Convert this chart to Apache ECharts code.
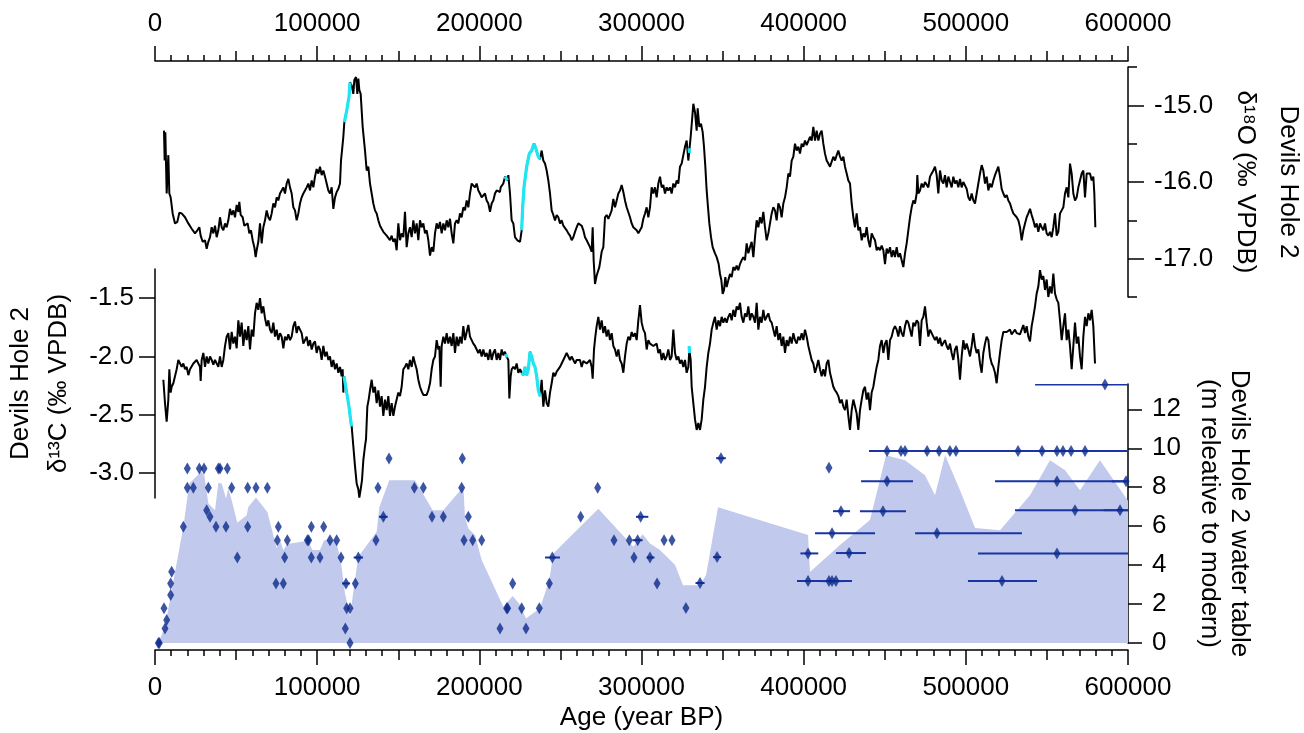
<!DOCTYPE html>
<html><head><meta charset="utf-8">
<script src="https://cdn.jsdelivr.net/npm/echarts@6/dist/echarts.min.js"></script>
<style>html,body{margin:0;padding:0;background:#fff}#c{width:1304px;height:733px}</style>
</head><body><div id="c"></div>
<script>
// ages in ka (1 ka = 1000 years)
const d18OTicks = [-17, -16, -15];
const d18OMinorTicks = [-17.5, -16.5, -15.5, -14.5];
const d13CTicks = [-3, -2.5, -2, -1.5];
const waterTicks = [0, 2, 4, 6, 8, 10, 12];

const d18O = [[5.55,-15.33],[5.96,-15.72],[6.37,-15.35],[7.20,-16.15],[8.22,-15.65],[8.84,-16.15],[9.66,-16.20],[10.89,-16.41],[12.33,-16.54],[13.77,-16.52],[15.01,-16.40],[16.44,-16.41],[18.50,-16.46],[20.56,-16.54],[22.61,-16.61],[24.67,-16.67],[26.11,-16.63],[27.34,-16.59],[28.16,-16.70],[29.39,-16.78],[30.83,-16.76],[31.86,-16.87],[32.89,-16.78],[33.92,-16.72],[34.94,-16.59],[35.97,-16.67],[37.00,-16.57],[38.03,-16.72],[39.05,-16.63],[40.08,-16.46],[41.11,-16.59],[42.14,-16.63],[43.17,-16.54],[44.19,-16.59],[45.22,-16.50],[46.25,-16.35],[47.28,-16.43],[48.30,-16.37],[49.33,-16.46],[50.36,-16.30],[51.39,-16.39],[52.00,-16.26],[52.83,-16.43],[54.06,-16.46],[55.09,-16.57],[56.12,-16.59],[57.14,-16.54],[58.17,-16.67],[59.20,-16.63],[60.23,-16.76],[61.25,-16.85],[62.08,-16.98],[62.69,-16.89],[63.72,-16.78],[64.75,-16.54],[65.78,-16.80],[66.80,-16.59],[67.83,-16.50],[68.86,-16.37],[69.89,-16.46],[70.92,-16.50],[71.94,-16.41],[72.97,-16.28],[74.00,-16.33],[75.03,-16.20],[76.05,-16.24],[77.08,-16.15],[78.11,-16.11],[79.14,-16.07],[80.16,-16.15],[81.19,-16.02],[82.22,-15.96],[83.25,-16.07],[84.28,-16.15],[85.30,-16.33],[86.33,-16.37],[87.36,-16.50],[88.39,-16.41],[89.41,-16.28],[90.44,-16.20],[91.47,-16.15],[92.50,-16.11],[93.53,-16.07],[94.55,-16.02],[95.58,-16.11],[96.61,-15.98],[97.64,-16.07],[98.66,-15.93],[99.69,-15.83],[100.72,-15.89],[101.75,-15.80],[102.78,-15.91],[103.80,-15.85],[104.83,-15.93],[105.86,-16.02],[106.89,-16.11],[107.91,-16.15],[108.94,-16.07],[109.97,-16.35],[111.00,-16.20],[112.03,-16.13],[113.05,-16.09],[114.08,-16.02],[114.70,-15.72],[115.31,-15.59],[116.14,-15.41],[116.75,-15.22],[118.19,-15.07],[119.63,-14.89],[120.25,-14.70],[121.28,-14.74],[122.30,-14.85],[122.92,-14.67],[123.95,-14.63],[124.77,-14.85],[125.39,-14.65],[126.00,-14.80],[126.83,-14.85],[128.06,-15.28],[129.50,-15.59],[130.53,-15.85],[131.55,-15.80],[132.58,-16.02],[133.61,-16.15],[134.64,-16.28],[135.66,-16.37],[136.69,-16.41],[137.72,-16.50],[138.75,-16.57],[139.77,-16.61],[140.80,-16.65],[141.83,-16.63],[142.86,-16.70],[143.88,-16.72],[144.91,-16.76],[145.94,-16.70],[146.97,-16.78],[147.99,-16.74],[149.02,-16.89],[150.05,-16.54],[151.08,-16.76],[152.10,-16.67],[153.13,-16.72],[154.16,-16.39],[155.19,-16.85],[156.22,-16.67],[157.24,-16.59],[158.27,-16.72],[159.30,-16.50],[160.33,-16.67],[161.35,-16.54],[162.38,-16.76],[163.41,-16.50],[164.44,-16.59],[165.47,-16.54],[166.49,-16.67],[167.52,-16.63],[168.55,-16.76],[169.58,-16.96],[170.61,-16.85],[171.63,-16.91],[172.66,-16.67],[173.69,-16.54],[174.72,-16.61],[175.74,-16.52],[176.77,-16.67],[177.80,-16.54],[178.83,-16.63],[179.86,-16.50],[180.88,-16.59],[181.91,-16.48],[182.94,-16.67],[183.97,-16.80],[184.99,-16.54],[186.02,-16.50],[187.05,-16.54],[188.08,-16.41],[189.10,-16.46],[190.13,-16.33],[191.16,-16.37],[192.19,-16.24],[193.22,-16.33],[194.24,-16.15],[195.27,-16.02],[196.30,-16.00],[197.33,-16.07],[198.35,-16.02],[199.38,-16.11],[200.41,-16.15],[201.44,-16.20],[202.47,-16.22],[203.49,-16.15],[204.52,-16.24],[205.55,-16.28],[206.58,-16.39],[207.61,-16.28],[208.63,-16.24],[209.66,-16.15],[210.69,-16.11],[212.75,-16.13],[213.15,-16.07],[214.80,-16.02],[215.83,-15.93],[216.44,-15.91],[217.27,-15.98],[217.88,-15.91],[218.91,-16.15],[219.94,-16.50],[220.97,-16.54],[221.99,-16.72],[223.43,-16.76],[225.08,-16.78],[226.10,-16.63],[226.72,-16.33],[227.54,-16.07],[229.19,-15.80],[230.83,-15.63],[232.27,-15.59],[233.71,-15.50],[234.94,-15.57],[236.38,-15.67],[237.41,-15.70],[238.44,-15.59],[239.46,-15.72],[240.49,-15.76],[241.52,-15.85],[242.55,-15.98],[243.58,-16.15],[244.60,-16.37],[245.63,-16.43],[246.66,-16.50],[247.69,-16.43],[248.71,-16.46],[249.74,-16.54],[250.77,-16.50],[251.80,-16.57],[252.83,-16.59],[253.85,-16.63],[254.88,-16.67],[255.91,-16.70],[256.94,-16.76],[257.96,-16.72],[258.99,-16.65],[260.02,-16.59],[261.05,-16.54],[262.08,-16.54],[263.10,-16.57],[264.13,-16.63],[265.16,-16.72],[266.19,-16.76],[267.21,-16.78],[268.24,-16.85],[269.27,-16.91],[269.89,-16.59],[270.50,-17.02],[271.32,-17.33],[272.35,-17.22],[273.38,-17.24],[274.00,-17.11],[274.82,-17.00],[275.44,-16.91],[276.46,-16.85],[277.49,-16.46],[278.52,-16.43],[279.55,-16.48],[280.57,-16.43],[281.60,-16.37],[282.63,-16.22],[283.66,-16.33],[284.69,-16.24],[285.71,-16.15],[286.74,-16.11],[287.77,-16.04],[288.80,-16.13],[289.82,-16.24],[290.85,-16.33],[291.88,-16.35],[292.91,-16.46],[293.94,-16.54],[294.96,-16.59],[295.99,-16.61],[297.02,-16.63],[298.05,-16.67],[299.07,-16.63],[300.10,-16.59],[301.13,-16.48],[302.16,-16.41],[303.19,-16.33],[304.21,-16.46],[305.24,-16.33],[306.27,-16.07],[307.30,-16.15],[308.32,-16.07],[309.35,-16.20],[310.38,-16.02],[311.41,-15.93],[312.43,-16.07],[313.46,-16.04],[314.49,-16.15],[315.52,-16.07],[316.55,-16.11],[317.57,-16.07],[318.60,-16.15],[319.63,-16.02],[320.66,-16.07],[321.68,-15.98],[322.71,-16.02],[323.74,-15.80],[324.77,-15.76],[325.80,-15.65],[326.82,-15.54],[327.85,-15.46],[328.88,-15.72],[329.50,-15.59],[330.32,-15.41],[331.14,-15.20],[331.96,-14.98],[332.99,-15.09],[334.02,-15.33],[334.63,-15.04],[335.66,-15.28],[336.69,-15.24],[337.72,-15.35],[338.54,-15.54],[339.36,-15.80],[340.18,-16.11],[341.01,-16.33],[341.83,-16.54],[342.86,-16.72],[343.88,-16.85],[345.32,-16.93],[346.35,-16.98],[347.58,-17.07],[348.41,-17.20],[349.23,-17.28],[350.05,-17.46],[350.87,-17.41],[351.69,-17.24],[352.52,-17.37],[353.55,-17.28],[354.57,-17.20],[355.60,-17.24],[356.63,-17.11],[357.66,-17.15],[358.68,-17.09],[359.71,-17.15],[360.74,-17.07],[361.77,-17.02],[362.79,-16.98],[363.82,-17.02],[364.85,-16.80],[365.88,-16.93],[366.91,-16.85],[367.93,-16.78],[368.96,-16.98],[369.99,-16.72],[371.02,-16.50],[372.04,-16.59],[373.07,-16.46],[374.10,-16.54],[375.13,-16.39],[376.15,-16.59],[377.18,-16.76],[378.21,-16.67],[379.24,-16.54],[380.27,-16.41],[381.29,-16.33],[382.32,-16.37],[383.35,-16.50],[384.38,-16.28],[385.41,-16.33],[386.43,-16.46],[387.46,-16.28],[388.49,-16.20],[389.52,-16.07],[390.54,-15.89],[391.57,-15.93],[392.60,-15.72],[393.63,-15.67],[394.65,-15.50],[395.68,-15.59],[396.71,-15.54],[397.74,-15.63],[398.77,-15.50],[399.79,-15.54],[400.82,-15.46],[401.85,-15.52],[402.88,-15.50],[403.90,-15.41],[404.93,-15.46],[405.96,-15.28],[406.99,-15.46],[408.01,-15.33],[409.04,-15.46],[410.07,-15.37],[411.10,-15.33],[412.12,-15.50],[413.15,-15.63],[414.18,-15.72],[415.21,-15.76],[416.24,-15.80],[417.27,-15.80],[418.30,-15.67],[419.32,-15.72],[420.35,-15.65],[421.38,-15.59],[422.41,-15.67],[423.43,-15.72],[424.46,-15.67],[425.49,-15.80],[426.52,-15.89],[427.54,-15.98],[428.57,-16.02],[429.60,-16.28],[430.63,-16.46],[431.66,-16.59],[432.68,-16.41],[433.71,-16.63],[434.74,-16.59],[435.77,-16.76],[436.79,-16.67],[437.82,-16.72],[438.85,-16.59],[439.88,-16.76],[440.90,-16.85],[441.93,-16.67],[442.96,-16.72],[443.99,-16.76],[445.02,-16.89],[446.04,-16.85],[447.07,-16.89],[448.10,-16.83],[449.13,-16.89],[450.15,-17.07],[451.18,-16.87],[452.21,-16.93],[453.24,-16.85],[454.27,-16.98],[455.29,-16.89],[456.32,-16.98],[457.35,-16.85],[458.38,-16.98],[459.41,-16.93],[460.43,-17.02],[461.46,-17.11],[462.49,-16.93],[463.52,-16.80],[464.54,-16.63],[465.57,-16.46],[466.60,-16.33],[467.63,-16.24],[468.66,-16.28],[469.68,-16.15],[470.09,-15.91],[470.71,-16.15],[471.74,-16.11],[472.77,-16.02],[473.79,-16.07],[474.82,-16.00],[475.85,-15.98],[476.88,-16.07],[477.90,-15.93],[478.93,-15.89],[479.96,-15.85],[480.99,-15.80],[482.02,-15.91],[483.04,-16.15],[484.07,-15.85],[485.10,-15.98],[486.13,-16.02],[487.15,-15.91],[488.18,-16.07],[489.21,-15.93],[490.24,-16.00],[491.27,-16.07],[492.29,-15.93],[493.32,-16.02],[494.35,-15.98],[495.38,-16.07],[496.40,-15.96],[497.43,-16.07],[498.46,-16.00],[499.49,-16.02],[500.52,-16.09],[501.54,-16.20],[502.57,-16.24],[503.60,-16.15],[504.63,-16.24],[505.65,-16.28],[506.68,-16.15],[507.71,-16.02],[508.74,-15.89],[509.77,-15.78],[510.79,-15.85],[511.82,-16.02],[512.85,-15.93],[513.88,-16.11],[514.90,-16.02],[515.93,-16.07],[516.96,-15.98],[517.99,-15.91],[519.01,-15.93],[520.04,-15.80],[521.07,-15.93],[522.10,-16.09],[523.13,-16.15],[524.15,-16.20],[525.18,-16.17],[526.21,-16.24],[527.24,-16.28],[528.26,-16.35],[529.29,-16.41],[530.32,-16.43],[531.35,-16.46],[532.37,-16.50],[533.40,-16.59],[534.43,-16.76],[535.46,-16.63],[536.49,-16.54],[537.51,-16.46],[538.54,-16.41],[539.57,-16.35],[540.60,-16.43],[541.62,-16.50],[542.65,-16.59],[543.68,-16.54],[544.71,-16.65],[545.74,-16.54],[546.76,-16.59],[547.79,-16.63],[548.82,-16.54],[549.85,-16.67],[550.87,-16.70],[551.90,-16.65],[552.93,-16.72],[553.96,-16.59],[554.99,-16.41],[556.01,-16.70],[557.04,-16.65],[558.07,-16.41],[559.10,-16.37],[560.12,-16.33],[561.15,-16.15],[562.18,-16.07],[563.21,-16.20],[564.24,-15.76],[565.26,-15.89],[566.29,-16.15],[567.32,-16.24],[568.35,-16.20],[569.37,-16.07],[570.40,-15.98],[571.43,-15.89],[572.46,-15.85],[573.49,-16.20],[574.51,-15.89],[575.54,-15.91],[576.57,-15.89],[577.60,-15.98],[578.62,-15.93],[579.24,-16.15],[579.86,-16.59]];

const d18OHi1 = [[116.75,-15.22],[118.19,-15.07],[119.63,-14.89],[120.25,-14.70]];
const d18OHi2 = [[215.83,-15.93],[216.44,-15.91],[217.27,-15.98]];
const d18OHi3 = [[226.10,-16.63],[226.72,-16.33],[227.54,-16.07],[229.19,-15.80],[230.83,-15.63],[232.27,-15.59],[233.71,-15.50],[234.94,-15.57],[236.38,-15.67],[237.41,-15.70]];
const d18OHi4 = [[329.30,-15.56],[329.70,-15.62]];

const d13C = [[5.14,-2.20],[6.17,-2.40],[7.19,-2.56],[8.22,-2.37],[8.84,-2.11],[9.66,-2.31],[10.28,-2.26],[11.31,-2.23],[12.33,-2.17],[13.36,-2.11],[14.39,-2.03],[15.42,-2.06],[16.44,-2.09],[17.47,-2.06],[18.50,-2.11],[19.53,-2.09],[20.56,-2.16],[21.58,-2.11],[23.64,-2.06],[25.69,-2.03],[27.75,-2.09],[28.16,-2.21],[28.78,-2.03],[29.81,-1.97],[30.83,-2.09],[31.86,-2.00],[32.89,-2.06],[33.92,-2.00],[34.94,-2.03],[35.97,-2.07],[37.00,-2.03],[38.03,-2.06],[39.05,-2.09],[40.08,-2.00],[41.11,-2.09],[42.14,-2.03],[43.17,-1.91],[44.19,-1.83],[45.22,-1.80],[46.25,-1.94],[47.28,-1.79],[48.30,-1.89],[49.33,-1.83],[50.36,-1.93],[51.39,-1.69],[52.42,-1.83],[53.44,-1.71],[54.47,-1.91],[55.50,-1.77],[56.53,-1.86],[57.55,-1.74],[58.58,-1.94],[59.61,-1.77],[60.64,-1.83],[61.67,-1.63],[62.69,-1.54],[63.72,-1.60],[64.75,-1.50],[65.78,-1.63],[66.80,-1.57],[67.83,-1.67],[68.86,-1.74],[69.89,-1.69],[70.92,-1.77],[71.94,-1.80],[72.97,-1.71],[74.00,-1.83],[75.03,-1.77],[76.05,-1.86],[77.08,-1.80],[78.11,-1.83],[79.14,-1.93],[80.16,-1.83],[81.19,-1.86],[82.22,-1.81],[83.25,-1.86],[84.28,-1.83],[85.30,-1.74],[86.33,-1.70],[87.36,-1.80],[88.39,-1.74],[89.41,-1.77],[90.44,-1.80],[91.47,-1.89],[92.50,-1.86],[93.53,-1.83],[94.55,-1.91],[95.58,-1.86],[96.61,-1.94],[97.64,-1.89],[98.66,-1.87],[99.69,-1.97],[100.72,-1.91],[101.75,-1.94],[102.78,-2.03],[103.80,-1.91],[104.83,-2.00],[105.86,-1.96],[106.89,-2.03],[107.91,-2.00],[108.94,-2.09],[109.97,-2.03],[111.00,-2.11],[112.03,-2.06],[113.05,-2.14],[114.08,-2.09],[115.11,-2.17],[115.73,-2.11],[116.14,-2.31],[116.55,-2.17],[118.19,-2.31],[119.63,-2.43],[120.86,-2.57],[121.28,-2.60],[122.30,-2.77],[123.33,-2.94],[124.36,-3.09],[125.39,-3.14],[126.00,-3.21],[126.83,-3.14],[127.65,-3.06],[128.47,-2.89],[129.50,-2.77],[130.12,-2.71],[130.94,-2.43],[131.76,-2.37],[132.58,-2.29],[133.61,-2.20],[134.64,-2.31],[135.66,-2.26],[136.69,-2.40],[137.72,-2.29],[138.75,-2.43],[139.77,-2.34],[140.80,-2.51],[141.83,-2.37],[142.86,-2.46],[143.88,-2.34],[144.91,-2.51],[145.94,-2.40],[146.97,-2.51],[147.99,-2.43],[149.02,-2.37],[150.05,-2.31],[151.08,-2.34],[152.10,-2.26],[153.13,-2.11],[154.16,-2.09],[155.19,-2.06],[156.22,-2.11],[157.24,-2.03],[158.27,-2.09],[159.30,-2.00],[160.33,-2.06],[161.35,-2.11],[162.38,-2.20],[163.41,-2.26],[164.44,-2.30],[165.47,-2.33],[166.49,-2.34],[167.52,-2.33],[168.55,-2.29],[169.58,-2.23],[170.61,-2.11],[171.63,-2.03],[172.66,-2.00],[173.69,-1.86],[174.72,-1.94],[175.33,-1.91],[176.16,-2.26],[176.77,-1.91],[177.80,-1.83],[178.83,-1.89],[179.86,-1.80],[180.88,-1.89],[181.91,-1.83],[182.94,-1.91],[183.97,-1.80],[184.99,-1.97],[186.02,-1.83],[187.05,-1.91],[188.08,-1.83],[189.10,-1.89],[190.13,-1.74],[191.16,-1.86],[192.19,-1.79],[193.22,-1.73],[194.24,-1.83],[195.27,-1.86],[196.30,-1.89],[197.33,-1.91],[198.35,-1.94],[199.38,-1.97],[200.41,-1.94],[201.44,-2.00],[202.47,-1.94],[203.49,-2.00],[204.52,-1.97],[205.55,-2.03],[206.58,-1.94],[207.61,-2.03],[208.63,-1.97],[209.66,-1.94],[210.69,-2.03],[211.72,-1.97],[212.75,-2.03],[213.77,-1.94],[214.80,-1.99],[215.83,-1.96],[216.44,-1.99],[217.88,-2.03],[218.50,-2.36],[219.33,-2.17],[219.94,-2.11],[220.97,-2.09],[222.00,-2.11],[223.03,-2.06],[224.05,-2.14],[225.08,-2.11],[226.11,-2.14],[227.14,-2.16],[228.16,-2.09],[229.19,-2.16],[230.22,-2.11],[231.25,-1.96],[232.27,-2.00],[233.30,-2.06],[234.33,-2.09],[235.36,-2.17],[236.38,-2.29],[237.41,-2.34],[238.44,-2.20],[239.47,-2.43],[240.49,-2.29],[241.52,-2.40],[242.55,-2.43],[243.58,-2.31],[244.60,-2.23],[245.63,-2.14],[246.66,-2.17],[247.69,-2.13],[248.71,-2.14],[249.74,-2.09],[250.77,-2.06],[251.80,-2.03],[252.83,-2.04],[253.85,-1.97],[254.88,-1.96],[255.91,-2.03],[256.94,-2.00],[257.97,-2.03],[258.99,-2.06],[260.02,-2.03],[261.05,-2.04],[262.08,-2.03],[263.10,-2.09],[264.13,-2.04],[265.16,-2.03],[266.19,-2.06],[267.21,-2.07],[268.24,-2.03],[269.27,-2.09],[269.89,-2.19],[270.71,-1.94],[271.53,-1.83],[272.35,-1.74],[273.38,-1.66],[274.41,-1.77],[275.44,-1.69],[276.46,-1.80],[277.49,-1.74],[278.52,-1.83],[279.55,-1.77],[280.57,-1.86],[281.60,-1.80],[282.63,-1.91],[283.66,-1.94],[284.69,-2.00],[285.71,-1.94],[286.74,-2.03],[287.77,-2.06],[288.80,-2.14],[289.82,-2.00],[290.85,-1.89],[291.88,-1.83],[292.91,-1.86],[293.94,-1.79],[294.96,-1.83],[295.99,-1.80],[297.02,-1.86],[298.05,-1.69],[299.07,-1.56],[300.10,-1.71],[301.13,-1.77],[302.16,-1.80],[303.19,-1.94],[304.21,-1.86],[305.24,-1.89],[307.30,-1.91],[309.35,-1.89],[310.38,-1.97],[311.41,-1.94],[312.44,-2.03],[313.46,-1.97],[314.49,-2.03],[315.52,-2.00],[316.55,-1.94],[317.57,-2.03],[318.60,-2.00],[319.63,-1.77],[320.66,-1.97],[321.69,-2.03],[322.71,-2.00],[323.74,-2.06],[324.77,-2.03],[325.80,-2.09],[326.82,-2.03],[327.85,-2.14],[328.88,-2.09],[329.50,-1.94],[330.32,-2.03],[330.94,-2.26],[331.96,-2.40],[332.99,-2.54],[334.02,-2.63],[335.05,-2.57],[336.07,-2.63],[337.10,-2.54],[338.13,-2.37],[339.16,-2.26],[340.19,-2.09],[341.21,-1.97],[342.24,-1.89],[343.27,-1.77],[344.30,-1.71],[345.32,-1.66],[346.35,-1.77],[347.38,-1.69],[348.41,-1.74],[349.44,-1.66],[350.46,-1.71],[351.49,-1.67],[352.52,-1.71],[353.55,-1.66],[354.57,-1.63],[355.60,-1.69],[356.63,-1.60],[357.66,-1.66],[358.68,-1.57],[359.71,-1.60],[360.74,-1.54],[361.77,-1.66],[362.80,-1.71],[363.82,-1.63],[364.85,-1.66],[365.88,-1.57],[366.91,-1.69],[367.93,-1.63],[368.96,-1.66],[369.99,-1.71],[371.02,-1.54],[372.05,-1.77],[373.07,-1.66],[374.10,-1.71],[375.13,-1.60],[376.16,-1.69],[377.18,-1.66],[378.21,-1.63],[379.24,-1.69],[380.27,-1.71],[381.30,-1.77],[382.32,-1.83],[383.35,-1.74],[384.38,-1.86],[385.41,-1.80],[386.43,-1.91],[387.46,-1.83],[388.49,-1.97],[389.52,-1.86],[390.54,-1.91],[391.57,-1.83],[392.60,-1.89],[393.63,-1.80],[394.66,-1.86],[395.68,-1.89],[396.71,-1.83],[397.74,-1.86],[398.77,-1.80],[399.79,-1.86],[400.82,-1.77],[401.85,-1.83],[402.88,-1.91],[403.91,-1.97],[404.93,-2.03],[405.96,-2.06],[406.99,-2.14],[408.02,-2.09],[409.04,-2.03],[410.07,-2.11],[411.10,-2.17],[412.13,-2.11],[413.15,-2.17],[414.18,-2.06],[415.21,-2.03],[416.24,-2.14],[417.27,-2.20],[418.29,-2.26],[419.32,-2.29],[420.35,-2.31],[421.38,-2.34],[422.41,-2.40],[423.43,-2.37],[424.46,-2.43],[425.49,-2.46],[426.52,-2.37],[427.54,-2.51],[428.57,-2.63],[429.60,-2.46],[430.63,-2.37],[431.66,-2.43],[432.68,-2.49],[433.71,-2.63],[434.74,-2.46],[435.77,-2.37],[436.79,-2.29],[437.82,-2.26],[438.85,-2.37],[439.88,-2.31],[440.90,-2.46],[441.93,-2.31],[442.96,-2.26],[443.99,-2.17],[445.02,-2.09],[446.04,-2.03],[447.07,-1.91],[448.10,-1.86],[449.13,-1.97],[450.15,-1.89],[451.18,-1.86],[452.21,-2.03],[453.24,-1.86],[454.27,-1.83],[455.29,-1.77],[456.32,-1.74],[457.35,-1.77],[458.38,-1.83],[459.40,-1.74],[460.43,-1.80],[461.46,-1.83],[462.49,-1.74],[463.52,-1.69],[464.54,-1.71],[465.57,-1.77],[466.60,-1.83],[467.63,-1.71],[468.65,-1.74],[469.68,-1.69],[470.71,-1.71],[471.74,-1.91],[472.77,-1.69],[473.79,-1.66],[474.82,-1.57],[475.85,-1.71],[476.88,-1.83],[477.90,-1.77],[478.93,-1.80],[479.96,-1.83],[480.99,-1.86],[482.01,-1.83],[483.04,-1.89],[484.07,-1.84],[485.10,-1.91],[486.13,-1.90],[487.15,-1.86],[488.18,-1.91],[489.21,-1.94],[490.24,-1.89],[491.26,-1.97],[492.29,-2.03],[493.32,-1.94],[494.35,-1.91],[495.38,-2.03],[496.40,-2.20],[497.43,-2.00],[498.46,-1.86],[499.49,-1.94],[500.51,-1.89],[501.54,-1.94],[502.57,-2.00],[503.60,-1.91],[504.63,-1.80],[505.65,-1.91],[506.68,-1.97],[507.71,-1.94],[508.74,-2.06],[509.76,-2.14],[510.79,-1.97],[511.82,-1.89],[512.85,-1.83],[513.88,-1.86],[514.90,-2.00],[515.93,-2.06],[516.96,-2.09],[517.99,-2.14],[519.01,-2.23],[520.04,-2.09],[521.07,-1.97],[522.10,-1.86],[523.12,-1.79],[524.15,-1.80],[525.18,-1.79],[526.21,-1.80],[527.24,-1.77],[528.26,-1.81],[529.29,-1.79],[530.32,-1.77],[531.35,-1.80],[532.37,-1.79],[533.40,-1.81],[534.43,-1.77],[535.46,-1.73],[536.49,-1.80],[537.51,-1.74],[538.54,-1.83],[539.57,-1.87],[540.60,-1.74],[541.62,-1.66],[542.65,-1.57],[543.68,-1.46],[544.71,-1.40],[545.74,-1.26],[546.76,-1.34],[547.79,-1.31],[548.82,-1.43],[549.85,-1.34],[550.87,-1.49],[551.90,-1.40],[552.93,-1.46],[553.96,-1.29],[554.99,-1.46],[556.01,-1.51],[557.04,-1.54],[558.07,-1.69],[559.10,-1.86],[560.12,-1.74],[561.15,-1.63],[562.18,-1.86],[563.21,-1.77],[564.23,-1.91],[565.26,-2.11],[566.29,-1.91],[567.32,-1.71],[568.35,-1.89],[569.37,-1.83],[570.40,-2.00],[571.43,-2.11],[572.46,-1.83],[573.49,-1.66],[574.51,-1.74],[575.54,-1.63],[576.57,-1.69],[577.60,-1.60],[578.62,-1.74],[579.65,-2.06]];

const d13CHi1 = [[116.55,-2.17],[118.19,-2.31],[119.63,-2.43],[120.86,-2.57],[121.28,-2.60]];
const d13CHi2 = [[216.30,-1.98],[217.00,-2.01]];
const d13CHi3 = [[226.11,-2.14],[227.14,-2.16],[228.16,-2.09],[229.19,-2.16],[230.22,-2.11],[231.25,-1.96],[232.27,-2.00],[233.30,-2.06],[234.33,-2.09],[235.36,-2.17],[236.38,-2.29],[237.41,-2.34]];
const d13CHi4 = [[329.40,-1.91],[329.60,-1.97]];

const waterArea = [[2.06,0],[6.17,0.84],[17.47,5.97],[21.17,8.19],[28.37,8.79],[30.42,8.62],[32.89,7.16],[37.00,6.82],[39.06,8.22],[41.11,8.19],[43.78,7.42],[45.22,7.93],[47.28,7.33],[50.77,6.17],[56.53,6.56],[57.55,6.99],[62.28,7.47],[69.27,6.73],[75.03,4.86],[77.08,5.28],[79.14,4.77],[81.60,5.08],[94.55,5.25],[97.02,4.77],[101.75,4.77],[104.21,5.28],[111.61,5.28],[114.49,4.22],[117.16,2.55],[120.25,1.35],[122.71,2.89],[125.39,4.43],[136.69,5.71],[138.34,6.99],[144.50,8.36],[160.33,8.36],[171.22,6.82],[177.80,6.82],[190.13,8.02],[191.16,6.48],[193.22,5.88],[197.33,5.54],[201.44,4.26],[214.80,1.86],[220.55,2.41],[224.66,2.00],[228.77,1.26],[237.41,1.78],[243.16,3.23],[245.63,4.60],[273.38,6.90],[294.96,4.94],[300.72,5.59],[305.24,5.11],[311.4,4.77],[320.7,4.00],[325.6,2.97],[336.1,2.97],[339.8,3.49],[347.2,6.97],[402.7,5.54],[403.9,3.64],[422.4,5.03],[440.9,6.31],[450.8,9.64],[462.5,9.38],[474.8,8.62],[481.0,7.59],[487.2,9.64],[496.4,7.85],[505.7,5.90],[521.1,5.79],[539.6,7.59],[551.9,9.38],[561.2,8.87],[570.4,7.85],[582.7,9.38],[598.8,7.44],[600,7.30]];

const waterPts = [[2.06,0],[2.67,0],[5.55,1.78],[6.17,0.75],[7.19,1.18],[9.66,2.46],[9.66,3.06],[10.28,3.66],[17.47,5.97],[19.94,8.96],[19.94,7.97],[23.64,7.97],[27.34,8.96],[30.22,8.96],[32.89,7.97],[31.86,6.82],[33.92,6.48],[37.62,5.97],[39.06,8.96],[40.08,8.96],[43.78,5.97],[44.61,8.96],[47.28,7.97],[50.77,4.39],[57.14,7.97],[57.14,5.97],[62.28,7.97],[69.27,7.97],[74.62,3.06],[76.06,5.97],[75.44,5.28],[79.14,3.06],[79.96,4.39],[81.60,5.28],[93.94,5.28],[94.76,5.28],[96.40,5.97],[96.40,4.39],[101.75,4.39],[104.01,5.97],[107.92,5.28],[112.03,5.28],[114.70,4.39],[117.37,0.75],[118.19,1.78],[120.25,1.78],[120.25,0],[123.54,3.06],[136.28,5.28],[137.51,7.97],[144.30,9.47],[159.92,7.97],[165.47,7.97],[170.81,6.48],[177.80,6.48],[189.52,9.47],[189.11,7.97],[193.22,6.48],[190.54,5.28],[195.89,5.28],[201.44,5.28],[212.74,0.75],[216.85,1.78],[217.47,1.78],[220.55,3.06],[226.10,1.78],[228.77,0.75],[236.99,1.78],[243.16,3.06],[262.49,6.48],[272.97,7.97],[283.04,5.28],[292.50,5.28],[295.38,4.39],[309.6,3.06],[313.9,5.28],[318.8,5.28],[327.4,1.80],[415.6,9.00]];

// [age, level, age min, age max]
const waterErr = [[117.78,3.06,115.3,120.3],[125.39,4.39,122.5,128.3],[140.80,6.48,138.1,143.5],[245.01,4.39,240.5,249.7],[297.64,5.28,294.5,300.7],[299.49,6.48,296.6,304.2],[305.24,4.39,303.2,308.0],[336.1,3.08,333.3,338.9],[346.6,4.41,344.1,349.1],[349.0,9.49,346.0,352.0],[402.7,4.60,398.0,409.0],[402.7,3.18,395.9,429.8],[415.6,3.18,410.0,421.0],[417.5,3.18,412.0,423.0],[419.9,3.18,414.0,425.0],[417.5,5.64,407.0,444.0],[423.0,6.77,418.1,428.6],[428.0,4.62,419.9,438.4],[448.9,6.77,434.7,463.1],[451.4,8.30,435.4,467.4],[451.4,9.86,440.3,470.0],[460.0,9.86,450.0,475.0],[462.5,9.86,452.0,478.0],[476.1,9.86,462.0,492.0],[483.5,9.86,470.0,500.0],[490.2,9.86,476.0,505.0],[493.9,9.86,480.0,510.0],[532.2,9.86,500.0,565.0],[547.0,9.86,520.0,575.0],[556.2,9.86,530.0,585.0],[559.9,9.86,535.0,590.0],[564.9,9.86,540.0,600.0],[573.5,9.86,545.0,600.0],[482.2,5.64,468.7,534.6],[522.3,3.18,501.3,543.9],[556.2,4.60,507.5,600.0],[567.3,6.82,530.3,600.0],[595.1,6.82,585.0,600.0],[556.2,8.30,518.0,600.0],[598.8,8.30,590.0,600.0],[585.8,13.28,542.7,600.0]];

const FONT = "'Liberation Sans', Arial, Helvetica, sans-serif";
const AX = {color:'#000', width:1.5};
const txt = {fontSize:26, color:'#000', fontFamily:FONT};

const chart = echarts.init(document.getElementById('c'), null, {renderer:'canvas'});
const gridBox = (top, height) => ({left:155, right:176, top:top, height:height, containLabel:false, outerBoundsMode:'none'});

function xMain(grid, pos, offset, withLabel, extra) {
  return Object.assign({
    gridIndex:grid, type:'value', position:pos, offset:offset, min:0, max:600, interval:100,
    axisLine:{show:true, onZero:false, lineStyle:AX},
    axisTick:{show:true, length:15, lineStyle:AX},
    minorTick:{show:true, splitNumber:10, length:6, lineStyle:AX},
    axisLabel:{show:withLabel, ...txt, margin: pos==='top'?24:25, formatter:v=>String(Math.round(v*1000))},
    splitLine:{show:false}, minorSplitLine:{show:false}
  }, extra||{});
}
function xMid(grid, pos, offset) {
  return {gridIndex:grid, type:'value', position:pos, offset:offset, min:0, max:600, interval:50,
    axisLine:{show:false, onZero:false}, axisTick:{show:true, length:10, lineStyle:AX},
    axisLabel:{show:false}, splitLine:{show:false}};
}

const option = {
  animation:false,
  backgroundColor:'#fff',
  grid:[gridBox(67,230), gridBox(269,229), gridBox(384,259)],
  xAxis:[
    xMain(0,'top',6,true),
    xMid(0,'top',6),
    {gridIndex:1, type:'value', min:0, max:600, show:false},
    xMain(2,'bottom',7,true,{name:'Age (year BP)', nameLocation:'middle', nameGap:55, nameTextStyle:txt}),
    xMid(2,'bottom',7)
  ],
  yAxis:[
    {gridIndex:0, type:'value', position:'right', min:-17.5, max:-14.5,
     axisLine:{show:true, onZero:false, lineStyle:AX},
     axisTick:{show:true, length:16, customValues:d18OTicks, lineStyle:AX},
     axisLabel:{show:true, customValues:d18OTicks, ...txt, margin:26, formatter:v=>v.toFixed(1)},
     splitLine:{show:false},
     name:'Devils Hole 2\nδ¹⁸O (‰ VPDB)', nameLocation:'middle', nameRotate:-90, nameGap:83,
     nameTextStyle:{...txt, lineHeight:43}},
    {gridIndex:0, type:'value', position:'right', min:-17.5, max:-14.5,
     axisLine:{show:false, onZero:false},
     axisTick:{show:true, length:9, customValues:d18OMinorTicks, lineStyle:AX},
     axisLabel:{show:false}, splitLine:{show:false}},
    {gridIndex:1, type:'value', position:'left', min:-3.214, max:-1.25,
     axisLine:{show:true, onZero:false, lineStyle:AX},
     axisTick:{show:true, length:16, customValues:d13CTicks, lineStyle:AX},
     axisLabel:{show:true, customValues:d13CTicks, ...txt, margin:21, formatter:v=>v.toFixed(1)},
     splitLine:{show:false},
     name:'Devils Hole 2\nδ¹³C (‰ VPDB)', nameLocation:'middle', nameRotate:90, nameGap:70,
     nameTextStyle:{...txt, lineHeight:38}},
    {gridIndex:2, type:'value', position:'right', min:0, max:13.3,
     axisLine:{show:true, onZero:false, lineStyle:AX},
     axisTick:{show:true, length:14, customValues:waterTicks, lineStyle:AX},
     axisLabel:{show:true, customValues:waterTicks, ...txt, margin:24},
     splitLine:{show:false},
     name:'Devils Hole 2 water table\n(m releative to modern)', nameLocation:'middle', nameRotate:-90, nameGap:66,
     nameTextStyle:{...txt, lineHeight:30}}
  ],
  series:[]
};

const S = option.series;
S.push({type:'line', xAxisIndex:3, yAxisIndex:3, data:waterArea, showSymbol:false, symbol:'none', z:1,
  lineStyle:{width:0}, areaStyle:{color:'#c1c9ec', opacity:1}, silent:true});
S.push({type:'custom', xAxisIndex:3, yAxisIndex:3, data:waterErr, z:3, clip:true,
  encode:{x:[0,2,3], y:1},
  renderItem:(params, api) => {
    const y = api.value(1);
    const p1 = api.coord([api.value(2), y]);
    const p2 = api.coord([api.value(3), y]);
    return {type:'line', shape:{x1:p1[0], y1:p1[1], x2:p2[0], y2:p2[1]},
      style:{stroke:'#1a35a3', lineWidth:2}};
  }});
S.push({type:'scatter', xAxisIndex:3, yAxisIndex:3, data:waterPts.concat(waterErr.map(r=>[r[0],r[1]])),
  symbol:'diamond', symbolSize:[7,12], z:4, itemStyle:{color:'#0b2a8c'}});
const blackLine = (data, xi, yi) => ({type:'line', xAxisIndex:xi, yAxisIndex:yi, data:data, showSymbol:false, symbol:'none', z:5,
  lineStyle:{color:'#000', width:2}, silent:true});
const cyanLine = (data, xi, yi) => ({type:'line', xAxisIndex:xi, yAxisIndex:yi, data:data, showSymbol:false, symbol:'none', z:6,
  lineStyle:{color:'#1fe6f2', width:3.2}, silent:true});
S.push(blackLine(d18O,0,0));
S.push(blackLine(d13C,2,2));
[d18OHi1,d18OHi2,d18OHi3,d18OHi4].forEach(d=>S.push(cyanLine(d,0,0)));
[d13CHi1,d13CHi2,d13CHi3,d13CHi4].forEach(d=>S.push(cyanLine(d,2,2)));

chart.setOption(option);
</script>
</body></html>
